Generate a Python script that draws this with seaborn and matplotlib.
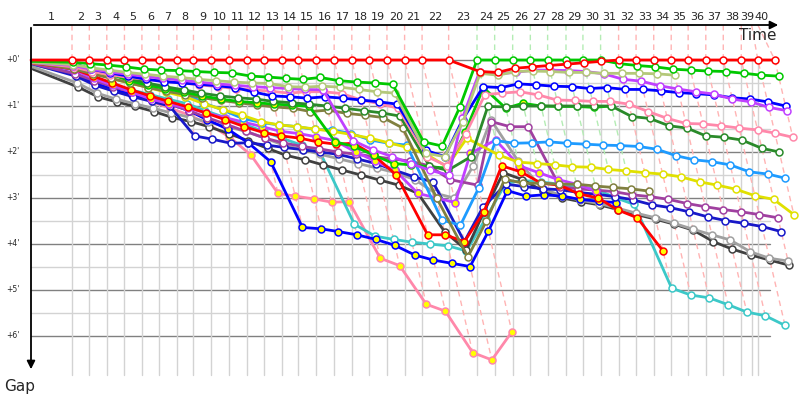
import numpy as np
import pandas as pd
import matplotlib
matplotlib.use("Agg")
import matplotlib.pyplot as plt
import seaborn as sns

# leader lap durations in seconds (lap 1 .. 40)
lap_secs = [230, 97, 98, 99, 98, 95, 101, 93, 101, 98,
            101, 93, 103, 93, 99, 101, 99, 99, 98, 99,
            98, 149, 159, 99, 101, 99, 97, 103, 95, 99,
            101, 98, 99, 98, 95, 99, 98, 101, 93, 95]
# time of the extra finish mark on the top axis (s)
finish_mark = 4041

lap_labels = [str(n) for n in range(1, 41)]
gap_labels = ["+0'", "+1'", "+2'", "+3'", "+4'", "+5'", "+6'"]

N = None
# gap to the leader in minutes, laps 0..40
red_w = [0, 0, 0, 0, 0, 0, 0, 0, 0, 0,
         0, 0, 0, 0, 0, 0, 0, 0, 0, 0,
         0, 0, 0, 0.25, 0.27, 0.18, 0.15, 0.12, 0.09, 0.06,
         0.03, 0, 0, 0, 0, 0, 0, 0, 0, 0, 0]
green_w = [0.03, 0.05, 0.08, 0.11, 0.15, 0.2, 0.22, 0.23, 0.25, 0.27,
           0.28, 0.35, 0.37, 0.4, 0.42, 0.38, 0.45, 0.48, 0.5, 0.53,
           1.78, 1.87, 1.03, 0, 0, 0, 0, 0, 0, 0,
           0, 0.08, 0.12, 0.15, 0.2, 0.22, 0.24, 0.25, 0.29, 0.33, 0.35]
lolive_w = [0.05, 0.1, 0.17, 0.22, 0.27, 0.31, 0.35, 0.38, 0.42, 0.45,
            0.48, 0.5, 0.51, 0.58, 0.59, 0.57, 0.59, 0.64, 0.69, 0.72,
            2.03, 2.1, 1.34, 0.29, 0.33, 0.25, 0.24, 0.25, 0.27, 0.27,
            0.29, 0.29, 0.29, 0.3, 0.33, N, N, N, N, N, N]
violet_w = [0.05, 0.12, 0.2, 0.26, 0.31, 0.36, 0.4, 0.44, 0.48, 0.52,
            0.55, 0.58, 0.6, 0.62, 0.64, 0.65, 1.75, 1.95, 2.1, 2.25,
            2.4, 2.5, 1.27, 0.25, 0.3, 0.27, 0.22, 0.22, 0.23, 0.25,
            0.3, 0.42, 0.46, 0.56, 0.63, 0.69, 0.74, 0.85, 0.91, 1.03, 1.1]
blue_w = [0.03, 0.08, 0.2, 0.28, 0.35, 0.42, 0.47, 0.5, 0.53, 0.56,
          0.6, 0.7, 0.78, 0.8, 0.83, 0.8, 0.83, 0.87, 0.91, 0.96,
          1.96, 2.1, 1.3, 0.58, 0.6, 0.52, 0.54, 0.57, 0.58, 0.62,
          0.6, 0.64, 0.64, 0.67, 0.71, 0.73, 0.76, 0.82, 0.85, 0.91, 1.0]
pink_w = [0.05, 0.15, 0.25, 0.32, 0.38, 0.42, 0.46, 0.5, 0.54, 0.58,
          0.62, 0.65, 0.68, 0.72, 0.69, 0.69, 0.73, 0.87, 0.95, 1.05,
          2.1, 2.3, 1.6, 0.75, 0.72, 0.69, 0.76, 0.87, 0.88, 0.9,
          0.9, 0.96, 1.12, 1.27, 1.38, 1.39, 1.43, 1.48, 1.52, 1.59, 1.68]
dgreen_w = [0.05, 0.12, 0.2, 0.3, 0.4, 0.5, 0.58, 0.65, 0.72, 0.78,
            0.82, 0.85, 0.9, 0.93, 0.96, 1.0, 1.05, 1.1, 1.15, 1.22,
            2.3, 2.4, 2.1, 1.01, 1.02, 1.0, 1.0, 1.0, 1.0, 1.0,
            1.0, 1.23, 1.27, 1.43, 1.48, 1.65, 1.68, 1.74, 1.92, 2.0, N]
green_y = [0.04, 0.1, 0.18, 0.3, 0.45, 0.55, 0.62, 0.7, 0.78, 0.85,
           0.9, 0.93, 0.96, 0.98, 1.01, 1.78, 1.88, 2.07, 2.25, 2.28,
           2.32, 2.35, 1.56, 0.6, 1.05, 0.94, 1.0, 1.01, 1.01, 1.03,
           1.0, N, N, N, N, N, N, N, N, N, N]
olive_w = [0.05, 0.2, 0.3, 0.4, 0.5, 0.6, 0.68, 0.75, 0.82, 0.88,
           0.93, 0.98, 1.02, 1.05, 1.12, 1.09, 1.16, 1.2, 1.25, 1.48,
           3.0, 4.28, 3.51, 2.59, 2.68, 2.68, 2.7, 2.7, 2.74, 2.77,
           2.8, 2.85, N, N, N, N, N, N, N, N, N]
yellow_w = [0.06, 0.12, 0.25, 0.4, 0.5, 0.6, 0.7, 0.8, 0.95, 1.08,
            1.2, 1.34, 1.41, 1.45, 1.5, 1.55, 1.62, 1.7, 1.8, 1.9,
            2.05, 2.32, 1.7, 2.07, 2.22, 2.25, 2.28, 2.32, 2.33, 2.38,
            2.41, 2.45, 2.48, 2.54, 2.65, 2.72, 2.81, 2.95, 3.03, 3.36, N]
lblue_w = [0.04, 0.12, 0.22, 0.32, 0.42, 0.5, 0.6, 0.72, 0.93, 1.09,
           1.27, 1.36, 1.41, 1.45, 1.51, 1.52, 1.6, 1.74, 1.81, 1.85,
           3.48, 3.59, 2.79, 1.75, 1.81, 1.8, 1.78, 1.81, 1.83, 1.85,
           1.86, 1.88, 1.94, 2.08, 2.17, 2.21, 2.28, 2.43, 2.48, 2.57, N]
red_y = [0.06, 0.2, 0.35, 0.5, 0.65, 0.78, 0.9, 1.02, 1.15, 1.3,
         1.45, 1.58, 1.65, 1.7, 1.78, 1.83, 1.81, 2.07, 2.5, 3.8,
         3.8, 3.95, 3.3, 2.3, 2.43, 2.68, 2.72, 2.91, 3.0, 3.26,
         3.43, 4.15, N, N, N, N, N, N, N, N, N]
violet_y = [0.06, 0.22, 0.4, 0.55, 0.7, 0.85, 0.95, 1.05, 1.15, 1.25,
            1.35, 1.45, 1.55, 1.6, 1.67, 1.75, 2.0, 2.2, 2.4, 2.9,
            3.0, 3.1, 2.03, 1.74, 2.3, 2.45, 2.6, 2.7, 2.85, N,
            N, N, N, N, N, N, N, N, N, N, N]
purple_w = [0.08, 0.3, 0.45, 0.58, 0.7, 0.82, 0.95, 1.1, 1.25, 1.4,
            1.55, 1.7, 1.8, 1.88, 1.93, 2.0, 2.05, 2.1, 2.15, 2.2,
            2.3, 2.6, 2.72, 1.34, 1.45, 1.45, 2.75, 2.8, 2.83, 2.86,
            2.93, 2.97, 3.03, 3.12, 3.19, 3.25, 3.3, 3.36, 3.43, N, N]
dblue_w = [0.08, 0.35, 0.55, 0.68, 0.8, 0.9, 1.0, 1.65, 1.72, 1.81,
           1.8, 1.85, 1.9, 1.95, 2.0, 2.05, 2.15, 2.25, 2.4, 2.54,
           2.65, 3.95, 3.2, 2.7, 2.75, 2.8, 2.82, 2.88, 2.92, 2.97,
           3.04, 3.15, 3.21, 3.3, 3.41, 3.49, 3.55, 3.62, 3.73, N, N]
blue_y = [0.07, 0.3, 0.5, 0.65, 0.75, 0.85, 0.95, 1.1, 1.3, 1.5,
          1.8, 2.21, 3.64, 3.67, 3.73, 3.8, 3.9, 4.03, 4.24, 4.35,
          4.42, 4.49, 3.72, 2.84, 2.96, 2.93, 2.96, 3.03, 3.07, 3.1,
          N, N, N, N, N, N, N, N, N, N, N]
pink_y = [0.1, 0.3, 0.45, 0.6, 0.75, 0.9, 1.05, 1.2, 1.4, 1.67,
          2.07, 2.9, 2.96, 3.02, 3.09, 3.08, 4.31, 4.47, 5.31, 5.46,
          6.36, 6.52, 5.91, N, N, N, N, N, N, N,
          N, N, N, N, N, N, N, N, N, N, N]
gray_w = [0.15, 0.5, 0.72, 0.85, 0.95, 1.05, 1.15, 1.25, 1.35, 1.45,
          1.55, 1.7, 1.85, 1.95, 2.05, 2.15, 2.25, 2.35, 2.45, 2.6,
          2.9, 3.0, 2.3, 1.3, 2.2, 2.8, 2.95, 3.05, 3.12, 3.22,
          3.33, 3.43, 3.55, 3.68, 3.8, 3.91, 4.17, 4.31, 4.37, N, N]
black_w = [0.2, 0.59, 0.8, 0.91, 1.01, 1.12, 1.25, 1.34, 1.45, 1.6,
           1.75, 1.92, 2.07, 2.17, 2.28, 2.39, 2.5, 2.61, 2.72, 2.9,
           3.73, 4.13, 3.3, 2.45, 2.6, 2.85, 3.0, 3.08, 3.15, 3.25,
           3.36, 3.46, 3.57, 3.7, 3.95, 4.11, 4.24, 4.35, 4.46, N, N]
cyan_w = [0.1, 0.3, 0.45, 0.55, 0.65, 0.75, 0.85, 0.95, 1.1, 1.25,
          1.4, 1.55, 1.7, 1.85, 2.0, 3.57, 3.83, 3.9, 3.96, 4.0,
          4.04, 4.15, 3.45, 2.68, 2.62, 2.65, 2.7, 2.75, 2.81, 2.99,
          3.14, 4.96, 5.11, 5.17, 5.32, 5.48, 5.56, 5.77, N, N, N]

YEL = '#ffff00'
WHT = 'white'
# (gaps, line colour, marker fill), drawn bottom to top
series = [
    (pink_y, '#ff88aa', YEL), (cyan_w, '#3cc8c8', WHT), (black_w, '#404040', WHT),
    (gray_w, '#a0a0a0', WHT), (blue_y, '#0000ff', YEL), (dblue_w, '#1818c8', WHT),
    (purple_w, '#a040a0', WHT), (violet_y, '#c040ff', YEL), (red_y, '#ff0000', YEL),
    (lblue_w, '#1e9bff', WHT), (yellow_w, '#e0e000', WHT), (olive_w, '#808040', WHT),
    (green_y, '#00c800', YEL), (dgreen_w, '#2a8a2a', WHT), (pink_w, '#ff88aa', WHT),
    (blue_w, '#0000ff', WHT), (violet_w, '#c040ff', WHT), (lolive_w, '#b4c87a', WHT),
    (green_w, '#00c800', WHT), (red_w, '#ff0000', WHT),
]

lead_t = np.concatenate([[0], np.cumsum(lap_secs)])
tick_t = np.concatenate([[0], lead_t[1:39], [finish_mark, lead_t[39]]])

PX = 0.17833  # pixels per second on the time axis
PY = 46.0     # pixels per minute on the gap axis
top_gap = -35 / PY

sns.set_style("white")
fig = plt.figure(figsize=(8, 4), dpi=100)
ax = fig.add_axes([0, 0, 1, 1])
ax.set_xlim(-31 / PX, 769 / PX)
ax.set_ylim(340 / PY, -60 / PY)
ax.axis('off')

# grid
t_end = 739 / PX
for g in np.arange(0, 6.01, 0.5):
    ax.plot([0, t_end], [g, g], color='#808080' if g % 1 == 0 else '#d3d3d3',
            lw=1, zorder=1)
for t in tick_t[1:]:
    ax.plot([t, t], [0, 315 / PY], color='#d3d3d3', lw=1, zorder=1)

# dashed lap lines, coloured after the leader of the lap
for n in range(1, 41):
    gaps = [s[0][n] for s in series if s[0][n] is not None]
    lead_col = '#b4ecb4' if green_w[n] == 0 else '#ffb4b4'
    gmax = max(gaps)
    ax.plot([tick_t[n], lead_t[n], lead_t[n] + 60 * gmax], [top_gap, 0, gmax],
            color=lead_col, lw=1, ls=(0, (4, 3)), zorder=2)

# driver lines
for gaps, col, face in series:
    df = pd.DataFrame({'lap': range(41), 'gap': gaps}).dropna()
    df['t'] = lead_t[df['lap'].values] + 60 * df['gap']
    sns.lineplot(data=df, x='t', y='gap', sort=False, estimator=None, ax=ax,
                 color=col, lw=2, marker='o', markersize=5, markerfacecolor=face,
                 markeredgecolor=col, markeredgewidth=1.1,
                 markevery=list(range(1, len(df))), zorder=3)

# axes with arrows
ax.annotate('', xy=(0, 312 / PY), xytext=(0, top_gap),
            arrowprops=dict(arrowstyle='-|>', color='black', lw=1.3, mutation_scale=12))
ax.annotate('', xy=(750 / PX, top_gap), xytext=(0, top_gap),
            arrowprops=dict(arrowstyle='-|>', color='black', lw=1.3, mutation_scale=12))
ax.text(727 / PX, -24 / PY, 'Time', fontsize=11, ha='center', va='center')
ax.text(-11 / PX, 326 / PY, 'Gap', fontsize=11, ha='center', va='center')

for k, lab in enumerate(gap_labels):
    ax.text(-18 / PX, k - 1 / PY, lab, fontsize=5.5, ha='center', va='center')

# lap numbers centred in their lap, pushed right where two would touch
centres = [(tick_t[n - 1] + tick_t[n]) / 2 for n in range(1, 41)]
min_sep = 14.5 / PX
for i in range(1, len(centres)):
    centres[i] = max(centres[i], centres[i - 1] + min_sep)
for c, lab in zip(centres, lap_labels):
    ax.text(c, -43 / PY, lab, fontsize=8, ha='center', va='center')

fig.savefig('out.png', dpi=100)
